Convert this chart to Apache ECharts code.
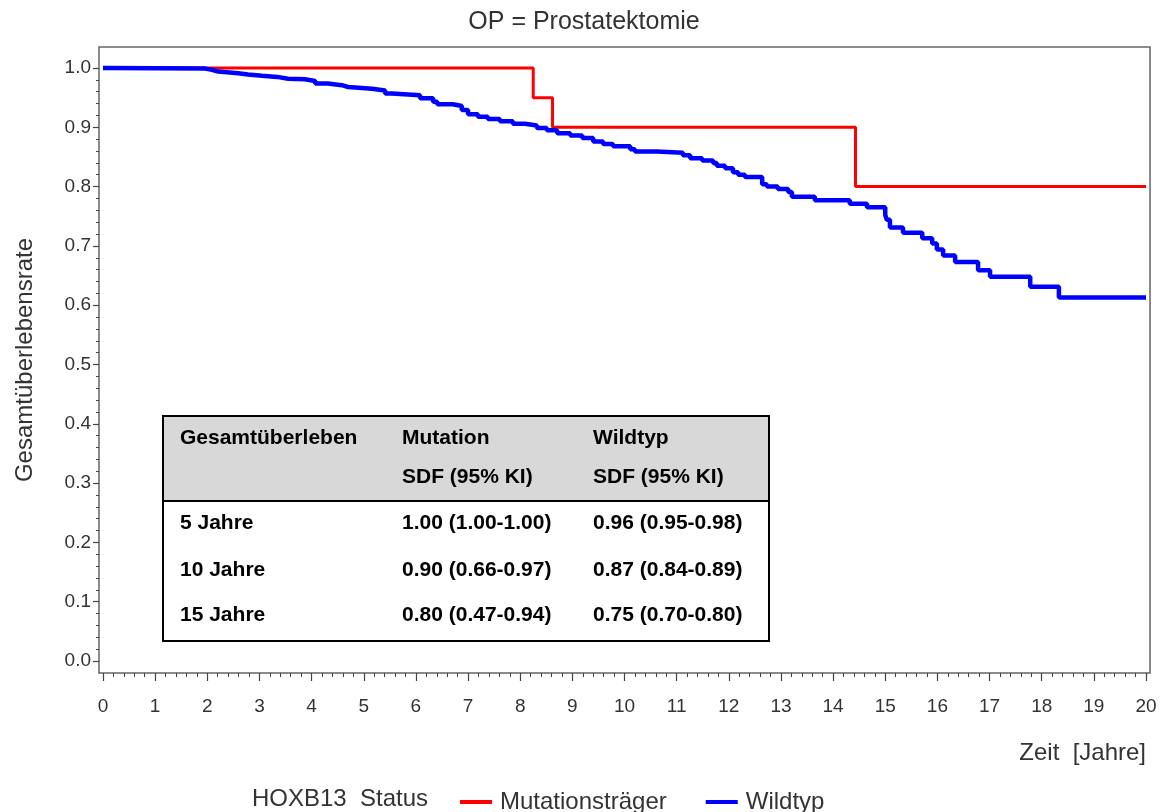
<!DOCTYPE html>
<html>
<head>
<meta charset="utf-8">
<script src="https://cdn.jsdelivr.net/npm/echarts@6/dist/echarts.min.js"></script>
<style>
html,body{margin:0;padding:0;background:#fff;}
#chart{width:1168px;height:812px;}
</style>
</head>
<body>
<div id="chart"></div>
<script>
// ---- Data ----
const titleText = 'OP = Prostatektomie';
const seriesNames = ['Mutationsträger', 'Wildtyp'];
const legendTitle = 'HOXB13  Status';
const xAxisName = 'Zeit  [Jahre]';
const yAxisName = 'Gesamtüberlebensrate';

const xTickValues = [0,1,2,3,4,5,6,7,8,9,10,11,12,13,14,15,16,17,18,19,20];
const yTickValues = [0.0,0.1,0.2,0.3,0.4,0.5,0.6,0.7,0.8,0.9,1.0];

// Kaplan-Meier steps: [time in years, survival]
const mutationTimes = [0, 8.25, 8.62, 14.43, 20];
const mutationSurv  = [1.0, 0.95, 0.90, 0.80, 0.80];

const wildTimes = [0, 0.08, 1.96, 2.09, 2.21, 2.59, 2.78, 3.05, 3.34, 3.55, 3.87, 4.07, 4.31, 4.58, 4.70,
  5.16, 5.41, 5.54, 6.08, 6.33, 6.41, 6.71, 6.88, 7.00, 7.19, 7.38, 7.61, 7.86, 8.09, 8.32, 8.51,
  8.71, 8.96, 9.19, 9.40, 9.59, 9.78, 10.11, 10.20, 10.62, 11.12, 11.26, 11.49, 11.70, 11.77, 11.93,
  12.08, 12.18, 12.31, 12.64, 12.73, 12.94, 13.14, 13.21, 13.65, 14.32, 14.65, 15.00, 15.03, 15.09,
  15.34, 15.71, 15.90, 15.99, 16.11, 16.34, 16.78, 17.01, 17.78, 18.33, 20];
const wildSurv = [1.0, 0.999, 0.997, 0.994, 0.991, 0.989, 0.987, 0.985, 0.982, 0.981, 0.978, 0.974, 0.971, 0.968, 0.965,
  0.962, 0.957, 0.954, 0.949, 0.943, 0.939, 0.936, 0.929, 0.922, 0.918, 0.914, 0.910, 0.906, 0.903, 0.899, 0.895,
  0.890, 0.886, 0.882, 0.876, 0.872, 0.868, 0.863, 0.859, 0.857, 0.853, 0.848, 0.844, 0.840, 0.835, 0.831,
  0.824, 0.820, 0.816, 0.804, 0.800, 0.796, 0.791, 0.783, 0.777, 0.771, 0.765, 0.752, 0.744, 0.731,
  0.722, 0.713, 0.704, 0.694, 0.684, 0.673, 0.659, 0.648, 0.631, 0.613, 0.613];

// Inset table
const tableHeader1 = ['Gesamtüberleben', 'Mutation', 'Wildtyp'];
const tableHeader2 = ['', 'SDF (95% KI)', 'SDF (95% KI)'];
const tableRowLabels = ['5 Jahre', '10 Jahre', '15 Jahre'];
const tableMutation = ['1.00 (1.00-1.00)', '0.90 (0.66-0.97)', '0.80 (0.47-0.94)'];
const tableWild = ['0.96 (0.95-0.98)', '0.87 (0.84-0.89)', '0.75 (0.70-0.80)'];

// ---- Build ----
const FONT = 'Liberation Sans';
const zip = (a, b) => a.map((v, i) => [v, b[i]]);
function minorsOf(major, n) {
  const out = [];
  for (let i = 0; i < major.length - 1; i++) {
    const step = (major[i+1] - major[i]) / n;
    for (let k = 1; k < n; k++) out.push(major[i] + step * k);
  }
  return out;
}
const xMinor = minorsOf(xTickValues, 5);
const yMinor = minorsOf(yTickValues, 5);

// frame (grid) pixel box and data padding inside it
const gLeft = 99, gRight = 1150, gTop = 47, gBottom = 673;
const padL = 4, padR = 4, padT = 21, padB = 12;
const xPerPx = 20 / (gRight - gLeft - padL - padR);
const yPerPx = 1 / (gBottom - gTop - padT - padB);
const xMin = 0 - padL * xPerPx, xMax = 20 + padR * xPerPx;
const yMin = 0 - padB * yPerPx, yMax = 1 + padT * yPerPx;

const tableLeft = 163, tableTop = 416, tableW = 606, tableH = 225, headH = 85;
const colX = [180, 402, 593];
const headY = [438, 477];
const rowY = [523, 570, 615];
const tFont = 'bold 21px "Liberation Sans"';

const graphics = [
  {type:'rect', shape:{x:tableLeft, y:tableTop, width:tableW, height:headH}, style:{fill:'#d8d8d8'}, z:10},
  {type:'rect', shape:{x:tableLeft, y:tableTop+headH, width:tableW, height:tableH-headH}, style:{fill:'#fff'}, z:10},
  {type:'line', shape:{x1:tableLeft, y1:tableTop+headH, x2:tableLeft+tableW, y2:tableTop+headH}, style:{stroke:'#000', lineWidth:2}, z:11},
  {type:'rect', shape:{x:tableLeft, y:tableTop, width:tableW, height:tableH}, style:{fill:null, stroke:'#000', lineWidth:2}, z:12},
  {type:'text', left:252, top:787, style:{text:legendTitle, font:'24px "Liberation Sans"', fill:'#333'}},
  {type:'text', right:22, top:741, style:{text:xAxisName, font:'24px "Liberation Sans"', fill:'#333'}}
];
for (let c = 0; c < 3; c++) {
  graphics.push({type:'text', x:colX[c], y:headY[0], style:{text:tableHeader1[c], font:tFont, fill:'#000', textVerticalAlign:'middle'}, z:13});
  if (tableHeader2[c]) graphics.push({type:'text', x:colX[c], y:headY[1], style:{text:tableHeader2[c], font:tFont, fill:'#000', textVerticalAlign:'middle'}, z:13});
}
for (let r = 0; r < 3; r++) {
  const cells = [tableRowLabels[r], tableMutation[r], tableWild[r]];
  for (let c = 0; c < 3; c++) {
    graphics.push({type:'text', x:colX[c], y:rowY[r], style:{text:cells[c], font:tFont, fill:'#000', textVerticalAlign:'middle'}, z:13});
  }
}

const tickColor = '#444';
const chart = echarts.init(document.getElementById('chart'), null, {renderer:'canvas'});
chart.setOption({
  backgroundColor:'#fff',
  animation:false,
  title:{text:titleText, left:'center', top:5, textStyle:{fontFamily:FONT, fontWeight:'normal', fontSize:25, color:'#333'}},
  grid:{left:gLeft, right:1168-gRight, top:gTop, bottom:812-gBottom, containLabel:false,
        show:true, borderColor:'#666', borderWidth:1.5, backgroundColor:'transparent'},
  legend:{
    data:seriesNames, left:455, top:785, itemWidth:32, itemHeight:4, itemGap:39, icon:'rect',
    textStyle:{fontFamily:FONT, fontSize:24, color:'#333', padding:[0,0,0,3]}
  },
  xAxis:[
    {type:'value', min:xMin, max:xMax, position:'bottom',
     axisLine:{show:false, onZero:false},
     axisTick:{show:true, customValues:xTickValues, length:8, lineStyle:{color:tickColor, width:1.2}},
     splitLine:{show:false},
     axisLabel:{customValues:xTickValues, margin:24, fontFamily:FONT, fontSize:19, color:'#333', formatter:v => String(Math.round(v))}},
    {type:'value', min:xMin, max:xMax, position:'bottom',
     axisLine:{show:false, onZero:false},
     axisTick:{show:true, customValues:xMinor, length:4, lineStyle:{color:tickColor, width:1}},
     splitLine:{show:false}, axisLabel:{show:false}}
  ],
  yAxis:[
    {type:'value', min:yMin, max:yMax, position:'left',
     name:yAxisName, nameLocation:'middle', nameGap:62, nameRotate:90,
     nameTextStyle:{fontFamily:FONT, fontSize:24, color:'#333'},
     axisLine:{show:false, onZero:false},
     axisTick:{show:true, customValues:yTickValues, length:6, lineStyle:{color:tickColor, width:1.2}},
     splitLine:{show:false},
     axisLabel:{customValues:yTickValues, margin:8, fontFamily:FONT, fontSize:19, color:'#333', formatter:v => v.toFixed(1)}},
    {type:'value', min:yMin, max:yMax, position:'left',
     axisLine:{show:false, onZero:false},
     axisTick:{show:true, customValues:yMinor, length:3, lineStyle:{color:tickColor, width:1}},
     splitLine:{show:false}, axisLabel:{show:false}}
  ],
  series:[
    {name:seriesNames[0], type:'line', step:'end', data:zip(mutationTimes, mutationSurv), showSymbol:false, symbol:'none',
     lineStyle:{color:'#ff0000', width:3}, itemStyle:{color:'#ff0000'}, z:3},
    {name:seriesNames[1], type:'line', step:'end', data:zip(wildTimes, wildSurv), showSymbol:false, symbol:'none',
     lineStyle:{color:'#0000ff', width:4.5}, itemStyle:{color:'#0000ff'}, z:4}
  ],
  graphic:graphics
});
</script>
</body>
</html>
